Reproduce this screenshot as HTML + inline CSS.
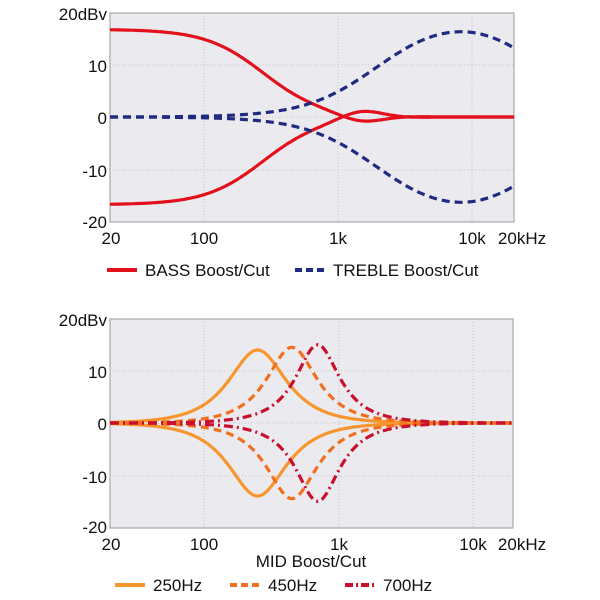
<!DOCTYPE html>
<html><head><meta charset="utf-8"><style>
body{margin:0;background:#fff;}
svg{display:block;font-family:"Liberation Sans",sans-serif;}
</style></head><body>
<svg id="s" width="600" height="600" viewBox="0 0 600 600">
<rect x="110" y="13" width="404" height="209" fill="#ebebef" stroke="#9a9a9a" stroke-width="1"/>
<rect x="110" y="319" width="403" height="209" fill="#ebebef" stroke="#9a9a9a" stroke-width="1"/>
<g stroke="#c4c4c8" stroke-width="1" stroke-dasharray="1,2">
<line x1="110" y1="65" x2="514" y2="65"/><line x1="110" y1="117" x2="514" y2="117"/><line x1="110" y1="170" x2="514" y2="170"/>
<line x1="204" y1="13" x2="204" y2="222"/><line x1="338" y1="13" x2="338" y2="222"/><line x1="472" y1="13" x2="472" y2="222"/>
<line x1="110" y1="371" x2="513" y2="371"/><line x1="110" y1="423" x2="513" y2="423"/><line x1="110" y1="476" x2="513" y2="476"/>
<line x1="204" y1="319" x2="204" y2="528"/><line x1="339" y1="319" x2="339" y2="528"/><line x1="473" y1="319" x2="473" y2="528"/>
</g>
<g font-size="17" fill="#111" text-anchor="end">
<text x="107" y="20">20dBv</text><text x="107" y="72">10</text><text x="107" y="124">0</text><text x="107" y="177">-10</text><text x="107" y="228">-20</text>
<text x="107" y="326">20dBv</text><text x="107" y="378">10</text><text x="107" y="430">0</text><text x="107" y="483">-10</text><text x="107" y="533">-20</text>
</g>
<g font-size="17" fill="#111" text-anchor="middle">
<text x="111" y="244">20</text><text x="204" y="244">100</text><text x="338" y="244">1k</text><text x="472" y="244">10k</text><text x="522" y="244">20kHz</text>
<text x="111" y="550">20</text><text x="204" y="550">100</text><text x="339" y="550">1k</text><text x="473" y="550">10k</text><text x="522" y="550">20kHz</text>
<text x="311" y="567">MID Boost/Cut</text>
</g>
<g font-size="17" fill="#111">
<line x1="107" y1="270" x2="137" y2="270" stroke="#e3111b" stroke-width="4"/>
<text x="145" y="276">BASS Boost/Cut</text>
<line x1="295" y1="270" x2="325" y2="270" stroke="#1f2a80" stroke-width="4" stroke-dasharray="7,4"/>
<text x="333" y="276">TREBLE Boost/Cut</text>
<line x1="115" y1="585" x2="145" y2="585" stroke="#f7962f" stroke-width="4"/>
<text x="153" y="591">250Hz</text>
<line x1="230" y1="585" x2="260" y2="585" stroke="#f07020" stroke-width="4" stroke-dasharray="7,4"/>
<text x="268" y="591">450Hz</text>
<line x1="345" y1="585" x2="375" y2="585" stroke="#c8102e" stroke-width="4" stroke-dasharray="8,3,2,3"/>
<text x="383" y="591">700Hz</text>
</g>
<g id="top"></g><g id="bot"></g>
</svg>
<script>
function path(fn,x0,dec,y0,sc,xmax){
 var d='';for(var x=110;x<=xmax;x+=2){var f=20*Math.pow(10,(x-x0)/dec);var y=y0-fn(f)*sc;d+=(d?'L':'M')+x+','+y.toFixed(1);}
 return d;}
function add(g,d,c,da){var p=document.createElementNS('http://www.w3.org/2000/svg','path');p.setAttribute('d',d);p.setAttribute('fill','none');p.setAttribute('stroke',c);p.setAttribute('stroke-width','3.2');if(da)p.setAttribute('stroke-dasharray',da);document.getElementById(g).appendChild(p);}
var bassB=function(f){var v=16.8/(1+Math.pow(f/280,2));var b=1.3*Math.exp(-Math.pow(Math.log10(f/1500)/0.22,2));return v-b;};
var treble=function(f){return 19.5/(1+Math.pow(2000/f,1.6))/Math.sqrt(1+Math.pow(f/20000,2));};
add('top',path(bassB,110,134,117,5.22,514),'#e3111b');
add('top',path(function(f){return -bassB(f)+0.3*Math.exp(-Math.pow(Math.log10(f/1500)/0.22,2));},110,134,117,5.22,514),'#e3111b');
add('top',path(treble,110,134,117,5.22,514),'#1f2a80','8,5');
add('top',path(function(f){return -treble(f);},110,134,117,5.22,514),'#1f2a80','8,5');
function peak(G,f0,q2){return function(f){var r=f/f0-f0/f;return G/(1+q2*r*r);};}
var P=[[14,250,0.68,'#f7962f',null],[14.5,450,0.9,'#f07020','8,5'],[15,700,1.2,'#c8102e','9,4,2,4']];
P.forEach(function(p){var fn=peak(p[0],p[1],p[2]);
 add('bot',path(fn,110,134.5,423,5.22,513),p[3],p[4]);
 add('bot',path(function(f){return -fn(f);},110,134.5,423,5.22,513),p[3],p[4]);});
</script>
</body></html>
